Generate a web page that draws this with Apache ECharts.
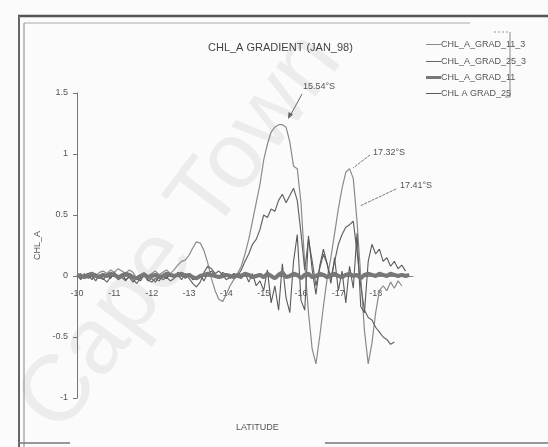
<!DOCTYPE html>
<html>
<head>
<meta charset="utf-8">
<script src="https://cdn.jsdelivr.net/npm/echarts@6/dist/echarts.min.js"></script>
<style>
  html, body { margin: 0; padding: 0; background: #fbfbfb; }
  #chart { width: 548px; height: 447px; }
</style>
</head>
<body>
<div id="chart"></div>
<script>
// Latitude grid (degrees, south negative)
const LAT = [
  -10.0, -10.1, -10.2, -10.3, -10.4, -10.5, -10.6, -10.7, -10.8, -10.9,
  -11.0, -11.1, -11.2, -11.3, -11.4, -11.5, -11.6, -11.7, -11.8, -11.9,
  -12.0, -12.1, -12.2, -12.3, -12.4, -12.5, -12.6, -12.7, -12.8, -12.9,
  -13.0, -13.1, -13.2, -13.3, -13.4, -13.5, -13.6, -13.7, -13.8, -13.9,
  -14.0, -14.1, -14.2, -14.3, -14.4, -14.5, -14.6, -14.7, -14.8, -14.9,
  -15.0, -15.1, -15.2, -15.3, -15.4, -15.5, -15.6, -15.7, -15.8, -15.9,
  -16.0, -16.1, -16.2, -16.3, -16.4, -16.5, -16.6, -16.7, -16.8, -16.9,
  -17.0, -17.1, -17.2, -17.3, -17.4, -17.5, -17.6, -17.7, -17.8, -17.9,
  -18.0, -18.1, -18.2, -18.3, -18.4, -18.5, -18.6, -18.7, -18.8, -18.9
];

const GRAD_11_3 = [
  0.00, -0.02, 0.01, -0.01, 0.02, 0.00, 0.03, 0.04, 0.02, 0.05,
  0.03, 0.06, 0.04, 0.02, 0.05, 0.03, -0.02, 0.01, 0.03, 0.00,
  0.02, 0.04, 0.01, 0.03, 0.05, 0.02, 0.05, 0.09, 0.12, 0.13,
  0.17, 0.23, 0.28, 0.27, 0.21, 0.11, -0.02, -0.12, -0.19, -0.21,
  -0.15, -0.08, -0.03, 0.02, 0.08, 0.18, 0.30, 0.45, 0.60, 0.75,
  0.95, 1.08, 1.18, 1.22, 1.24, 1.24, 1.22, 1.10, 0.90, 0.88,
  0.60, 0.10, -0.30, -0.60, -0.72, -0.50, -0.25, -0.02, 0.15, 0.35,
  0.55, 0.72, 0.85, 0.88, 0.80, 0.45, 0.00, -0.45, -0.72, -0.55,
  -0.30, -0.12, -0.08, -0.12, -0.05, -0.10, -0.04, -0.08, null, null
];

const GRAD_25_3 = [
  0.01, -0.03, 0.02, -0.02, 0.00, -0.04, 0.01, -0.02, -0.05, -0.01,
  0.02, -0.03, -0.01, -0.04, 0.00, -0.03, -0.06, -0.02, 0.01, -0.04,
  -0.02, -0.05, 0.00, -0.03, -0.01, -0.04, -0.02, 0.01, -0.03, 0.02,
  -0.02, -0.06, -0.09, -0.05, 0.03, 0.08, 0.06, 0.02, 0.04, 0.01,
  -0.03, -0.01, 0.02, 0.00, 0.05, 0.12, 0.18, 0.26, 0.30, 0.38,
  0.50, 0.48, 0.55, 0.53, 0.62, 0.67, 0.60, 0.66, 0.72, 0.62,
  0.35, 0.05, 0.30, 0.12, -0.08, 0.06, 0.18, 0.10, -0.02, 0.12,
  0.26, 0.34, 0.40, 0.42, 0.45, 0.20, -0.08, -0.28, -0.34, -0.36,
  -0.42, -0.46, -0.50, -0.52, -0.56, -0.54, null, null, null, null
];

const GRAD_11 = [
  0.01, 0.00, -0.01, 0.01, 0.02, 0.00, -0.01, 0.01, 0.00, 0.02,
  0.01, -0.01, 0.00, 0.02, 0.01, -0.01, -0.02, 0.00, 0.01, -0.01,
  0.00, 0.01, -0.01, 0.00, 0.02, 0.01, 0.00, 0.01, 0.02, 0.00,
  0.01, -0.01, -0.02, 0.00, 0.01, 0.02, 0.01, 0.00, -0.01, 0.00,
  0.01, 0.00, -0.01, 0.01, 0.00, 0.02, 0.01, -0.01, 0.00, 0.01,
  -0.01, 0.02, 0.00, -0.02, 0.01, 0.03, -0.01, 0.00, 0.02, 0.01,
  -0.02, 0.01, 0.02, -0.01, 0.00, 0.02, 0.01, -0.01, 0.01, 0.02,
  0.00, -0.01, 0.01, 0.02, 0.00, 0.01, -0.02, 0.01, 0.02, 0.01,
  0.00, 0.02, 0.01, 0.00, 0.02, 0.01, 0.00, 0.01, 0.00, 0.01
];

const GRAD_25 = [
  -0.01, 0.02, -0.02, 0.01, -0.03, 0.02, -0.01, -0.03, 0.01, -0.02,
  0.03, -0.01, 0.02, -0.03, -0.01, -0.05, -0.02, -0.04, 0.01, -0.03,
  -0.05, -0.02, -0.04, 0.00, -0.02, 0.02, -0.01, 0.03, 0.01, -0.02,
  0.01, -0.03, -0.02, 0.01, -0.04, 0.02, 0.04, 0.01, -0.02, 0.03,
  0.01, -0.02, 0.02, -0.01, -0.02, 0.03, -0.05, 0.02, -0.08, -0.04,
  -0.12, 0.05, -0.22, -0.08, -0.28, 0.10, -0.18, -0.30, 0.12, 0.34,
  -0.20, -0.28, 0.33, 0.05, -0.15, 0.08, 0.22, 0.10, -0.06, 0.15,
  -0.12, 0.04, -0.22, 0.08, -0.10, 0.35, -0.25, -0.30, 0.12, 0.26,
  0.18, 0.22, 0.12, 0.15, 0.08, 0.12, 0.06, 0.09, 0.04, null
];

const SERIES_NAMES = ['CHL_A_GRAD_11_3', 'CHL_A_GRAD_25_3', 'CHL_A_GRAD_11', 'CHL A GRAD_25'];
const Y_TICKS = [-1, -0.5, 0, 0.5, 1, 1.5];

const FONT = '"Liberation Sans Narrow", "Liberation Sans", Arial, sans-serif';

function pairs(values) {
  return LAT.map((lat, i) => [lat, values[i]]);
}

const chart = echarts.init(document.getElementById('chart'), null, { renderer: 'canvas' });

const lineStyles = [
  { color: '#8a8a8a', width: 1.2 },
  { color: '#666', width: 1.2 },
  { color: '#777', width: 4 },
  { color: '#5a5a5a', width: 1.1 }
];
const valueSets = [GRAD_11_3, GRAD_25_3, GRAD_11, GRAD_25];

const legendTops = [35, 52, 68, 84];

// plot area: y from -1 (bottom) to 1.5 (top)
const GRID_TOP = 93, GRID_BOTTOM_PX = 398;
const ZERO_OFFSET = -(GRID_BOTTOM_PX - (GRID_TOP + (GRID_BOTTOM_PX - GRID_TOP) * 1.5 / 2.5));

const option = {
  backgroundColor: '#fbfbfb',
  animation: false,
  title: {
    text: 'CHL_A GRADIENT (JAN_98)',
    left: 203,
    top: 37,
    textStyle: { fontFamily: FONT, fontSize: 11, fontWeight: 'normal', color: '#444' }
  },
  legend: SERIES_NAMES.map((name, i) => ({
    data: [name],
    left: 421,
    top: legendTops[i],
    icon: 'rect',
    itemWidth: 15,
    itemHeight: i === 2 ? 3 : 1,
    itemGap: 2,
    textStyle: { fontFamily: FONT, fontSize: 9, color: '#555', padding: [0, 0, 0, -5] },
    selectedMode: false
  })),
  grid: { left: 77, right: 135, top: GRID_TOP, bottom: 447 - GRID_BOTTOM_PX, containLabel: false },
  xAxis: {
    type: 'value',
    min: -19,
    max: -10,
    interval: 1,
    inverse: true,
    position: 'bottom',
    offset: ZERO_OFFSET,
    axisLine: { show: true, onZero: false, lineStyle: { color: '#888', width: 1 } },
    axisTick: { show: false },
    splitLine: { show: false },
    axisLabel: {
      fontFamily: FONT, fontSize: 9, color: '#555', margin: 13,
      formatter: v => (v === -19 ? '' : String(v))
    }
  },
  yAxis: {
    type: 'value',
    min: -1,
    max: 1.5,
    interval: 0.5,
    name: 'CHL_A',
    nameLocation: 'middle',
    nameRotate: 90,
    nameGap: 32,
    nameTextStyle: { fontFamily: FONT, fontSize: 9, color: '#555' },
    axisLine: { show: true, lineStyle: { color: '#777', width: 1 } },
    axisTick: { show: true, length: 4, lineStyle: { color: '#777' } },
    splitLine: { show: false },
    axisLabel: {
      fontFamily: FONT, fontSize: 9, color: '#555', margin: 9,
      formatter: v => (Y_TICKS.includes(v) ? String(v) : '')
    }
  },
  series: SERIES_NAMES.map((name, i) => ({
    name,
    type: 'line',
    data: pairs(valueSets[i]),
    showSymbol: false,
    connectNulls: false,
    lineStyle: lineStyles[i],
    itemStyle: { color: lineStyles[i].color },
    z: i === 2 ? 3 : 2
  })),
  graphic: [
    // faint diagonal watermark behind the plot
    {
      type: 'text', z: -10, silent: true,
      x: 2, y: 392, rotation: Math.PI * 53 / 180,
      style: { text: 'Cape Town', fontFamily: '"Liberation Sans", Arial, sans-serif', fontSize: 94, fill: '#ececec' }
    },
    // frame
    { type: 'line', shape: { x1: 18, y1: 16, x2: 548, y2: 16 }, style: { stroke: '#555', lineWidth: 2.5 } },
    { type: 'line', shape: { x1: 24, y1: 23, x2: 470, y2: 23 }, style: { stroke: '#aaa', lineWidth: 1 } },
    { type: 'line', shape: { x1: 19, y1: 16, x2: 19, y2: 447 }, style: { stroke: '#666', lineWidth: 2 } },
    { type: 'line', shape: { x1: 24, y1: 23, x2: 24, y2: 447 }, style: { stroke: '#888', lineWidth: 1 } },
    { type: 'line', shape: { x1: 18, y1: 443, x2: 70, y2: 443 }, style: { stroke: '#777', lineWidth: 1.5 } },
    { type: 'line', shape: { x1: 325, y1: 443, x2: 548, y2: 443 }, style: { stroke: '#777', lineWidth: 1.5 } },
    // legend bracket
    { type: 'line', shape: { x1: 510, y1: 32, x2: 510, y2: 97 }, style: { stroke: '#888', lineWidth: 1 } },
    { type: 'line', shape: { x1: 494, y1: 32, x2: 510, y2: 32 }, style: { stroke: '#999', lineWidth: 1, lineDash: [2, 2] } },
    { type: 'line', shape: { x1: 505, y1: 97, x2: 510, y2: 97 }, style: { stroke: '#888', lineWidth: 1 } },
    // x-axis title
    {
      type: 'text', x: 236, y: 423,
      style: { text: 'LATITUDE', fontFamily: FONT, fontSize: 9, fill: '#555' }
    },
    // peak annotations
    {
      type: 'text', x: 303, y: 82,
      style: { text: '15.54°S', fontFamily: FONT, fontSize: 9, fill: '#555' }
    },
    {
      type: 'line', shape: { x1: 302, y1: 94, x2: 290, y2: 116 },
      style: { stroke: '#666', lineWidth: 1 }
    },
    {
      type: 'polygon', shape: { points: [[288, 119], [288.5, 112], [293, 114.5]] },
      style: { fill: '#666' }
    },
    {
      type: 'text', x: 373, y: 148,
      style: { text: '17.32°S', fontFamily: FONT, fontSize: 9, fill: '#555' }
    },
    {
      type: 'line', shape: { x1: 370, y1: 155, x2: 353, y2: 168 },
      style: { stroke: '#777', lineWidth: 1, lineDash: [3, 1] }
    },
    {
      type: 'text', x: 400, y: 181,
      style: { text: '17.41°S', fontFamily: FONT, fontSize: 9, fill: '#555' }
    },
    {
      type: 'line', shape: { x1: 396, y1: 189, x2: 360, y2: 206 },
      style: { stroke: '#777', lineWidth: 1, lineDash: [3, 1] }
    }
  ]
};

chart.setOption(option);
</script>
</body>
</html>
